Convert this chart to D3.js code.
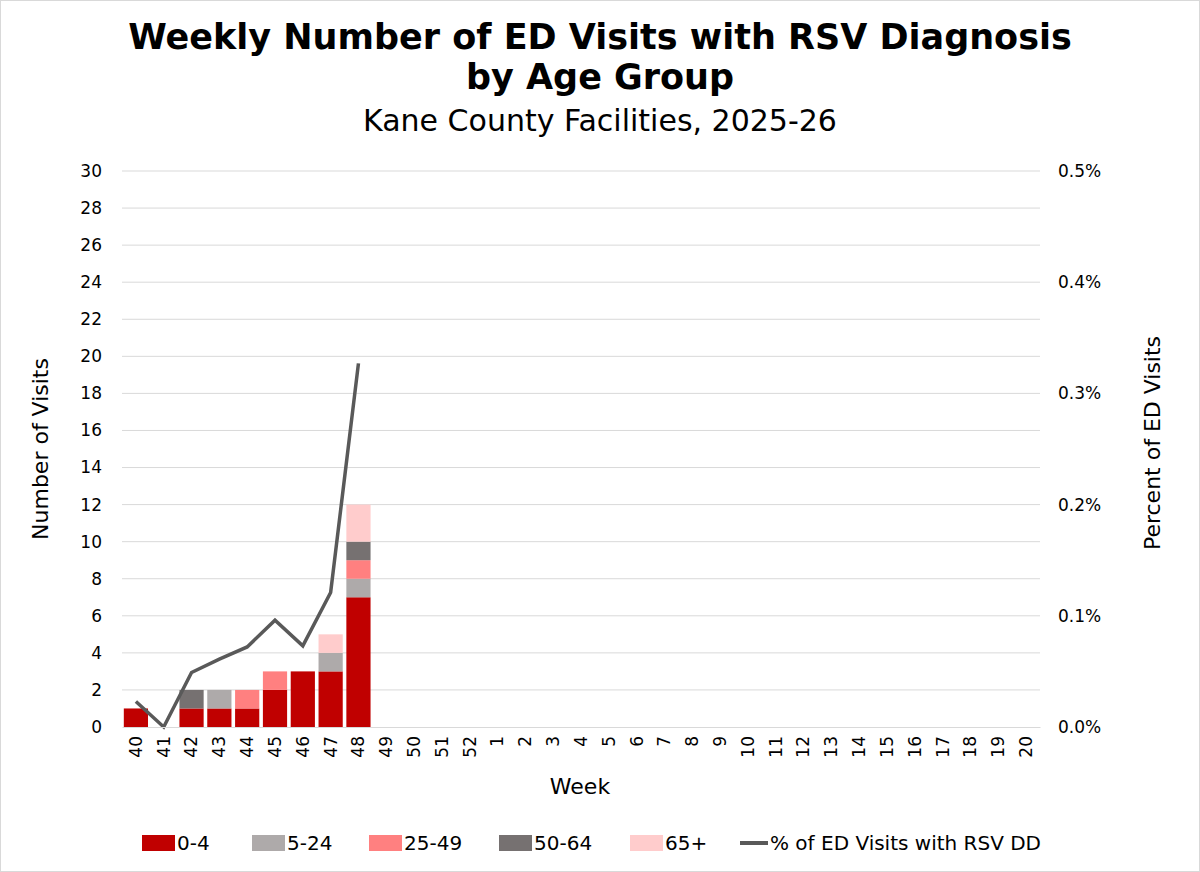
<!DOCTYPE html>
<html><head><meta charset="utf-8">
<script src="https://d3js.org/d3.v7.min.js"></script>
<style>
body{margin:0;background:#fff;font-family:"DejaVu Sans",Verdana,sans-serif;}
svg{display:block;}
.axis text{font-size:17px;fill:#000;font-family:"DejaVu Sans",Verdana,sans-serif;}
</style></head><body><div id="plot"></div>
<script>
// weeks of the 2025-26 season
const weeks = [40,41,42,43,44,45,46,47,48,49,50,51,52,1,2,3,4,5,6,7,8,9,10,11,12,13,14,15,16,17,18,19,20];

// visits by age group (only weeks with data)
const visits = {
  40:{a:1,b:0,c:0,d:0,e:0}, 41:{a:0,b:0,c:0,d:0,e:0}, 42:{a:1,b:0,c:0,d:1,e:0},
  43:{a:1,b:1,c:0,d:0,e:0}, 44:{a:1,b:0,c:1,d:0,e:0}, 45:{a:2,b:0,c:1,d:0,e:0},
  46:{a:3,b:0,c:0,d:0,e:0}, 47:{a:3,b:1,c:0,d:0,e:1}, 48:{a:7,b:1,c:1,d:1,e:2}
};
// percent of ED visits with RSV DD
const pct = [[40,0.023],[41,0],[42,0.049],[43,0.061],[44,0.072],[45,0.096],[46,0.073],[47,0.121],[48,0.327]];

const groups = [
  {key:"a",label:"0-4",color:"#c00000"},
  {key:"b",label:"5-24",color:"#aeaaaa"},
  {key:"c",label:"25-49",color:"#ff8080"},
  {key:"d",label:"50-64",color:"#767171"},
  {key:"e",label:"65+",color:"#ffcccc"}
];

const W=1200,H=872;
const margin={top:171,left:122,right:160,bottom:145};
const width=W-margin.left-margin.right, height=H-margin.top-margin.bottom;

const svg=d3.select("#plot").append("svg").attr("width",W).attr("height",H);
svg.append("rect").attr("x",0.5).attr("y",0.5).attr("width",W-1).attr("height",H-1).attr("fill","#fff").attr("stroke","#d9d9d9");

const x=d3.scaleBand().domain(weeks).range([0,width]).paddingInner(0.13).paddingOuter(0.065);
const y=d3.scaleLinear().domain([0,30]).range([height,0]);
const y2=d3.scaleLinear().domain([0,0.5]).range([height,0]);

const g=svg.append("g").attr("transform",`translate(${margin.left},${margin.top})`);

// gridlines
g.selectAll("line.grid").data(d3.range(2,31,2)).join("line")
  .attr("x1",0).attr("x2",width).attr("y1",d=>y(d)).attr("y2",d=>y(d))
  .attr("stroke","#d9d9d9").attr("stroke-width",1);

// stacked bars
const rows=weeks.filter(w=>visits[w]).map(w=>Object.assign({week:w},visits[w]));
const stack=d3.stack().keys(groups.map(d=>d.key))(rows);
g.selectAll("g.layer").data(stack).join("g")
  .attr("fill",(d,i)=>groups[i].color)
  .selectAll("rect").data(d=>d).join("rect")
  .attr("x",d=>x(d.data.week)).attr("width",x.bandwidth())
  .attr("y",d=>y(d[1])).attr("height",d=>y(d[0])-y(d[1]));

// line
g.append("path").datum(pct)
  .attr("fill","none").attr("stroke","#595959").attr("stroke-width",3.5)
  .attr("d",d3.line().x(d=>x(d[0])+x.bandwidth()/2).y(d=>y2(d[1])));

// axes
const xa=g.append("g").attr("class","axis").attr("transform",`translate(0,${height})`)
  .call(d3.axisBottom(x).tickSize(0));
xa.select(".domain").attr("stroke","#d9d9d9");
xa.selectAll("text").attr("transform","rotate(-90)").attr("text-anchor","end")
  .attr("x",-9).attr("y",0).attr("dy","0.35em");

const ya=g.append("g").attr("class","axis").call(d3.axisLeft(y).tickValues(d3.range(0,31,2)).tickSize(0).tickPadding(20));
ya.select(".domain").remove();
const ya2=g.append("g").attr("class","axis").attr("transform",`translate(${width},0)`)
  .call(d3.axisRight(y2).tickValues([0,0.1,0.2,0.3,0.4,0.5]).tickFormat(d=>d.toFixed(1)+"%").tickSize(0).tickPadding(18));
ya2.select(".domain").remove();

// titles
svg.append("text").attr("x",600).attr("y",49).attr("text-anchor","middle")
  .attr("font-size",35).attr("font-weight","bold").text("Weekly Number of ED Visits with RSV Diagnosis");
svg.append("text").attr("x",600).attr("y",89).attr("text-anchor","middle")
  .attr("font-size",35).attr("font-weight","bold").text("by Age Group");
svg.append("text").attr("x",600).attr("y",131).attr("text-anchor","middle")
  .attr("font-size",30).text("Kane County Facilities, 2025-26");

svg.append("text").attr("transform","translate(48,449) rotate(-90)").attr("text-anchor","middle")
  .attr("font-size",22).text("Number of Visits");
svg.append("text").attr("transform","translate(1160,443) rotate(-90)").attr("text-anchor","middle")
  .attr("font-size",22).text("Percent of ED Visits");
svg.append("text").attr("x",580).attr("y",794).attr("text-anchor","middle")
  .attr("font-size",22).text("Week");

// legend
const legend=[...groups.map(d=>({label:d.label,color:d.color,type:"rect"})),
  {label:"% of ED Visits with RSV DD",color:"#595959",type:"line"}];
const lx=[142,252,369,499,630,740];
const lg=svg.append("g").attr("transform","translate(0,843)");
legend.forEach((d,i)=>{
  const it=lg.append("g").attr("transform",`translate(${lx[i]},0)`);
  if(d.type==="rect") it.append("rect").attr("x",0).attr("y",-8).attr("width",33).attr("height",16).attr("fill",d.color);
  else it.append("line").attr("x1",0).attr("x2",28).attr("y1",0).attr("y2",0).attr("stroke",d.color).attr("stroke-width",4);
  it.append("text").attr("x",d.type==="rect"?35:30).attr("y",0).attr("dy","0.35em").attr("font-size",20).text(d.label);
});
</script></body></html>
